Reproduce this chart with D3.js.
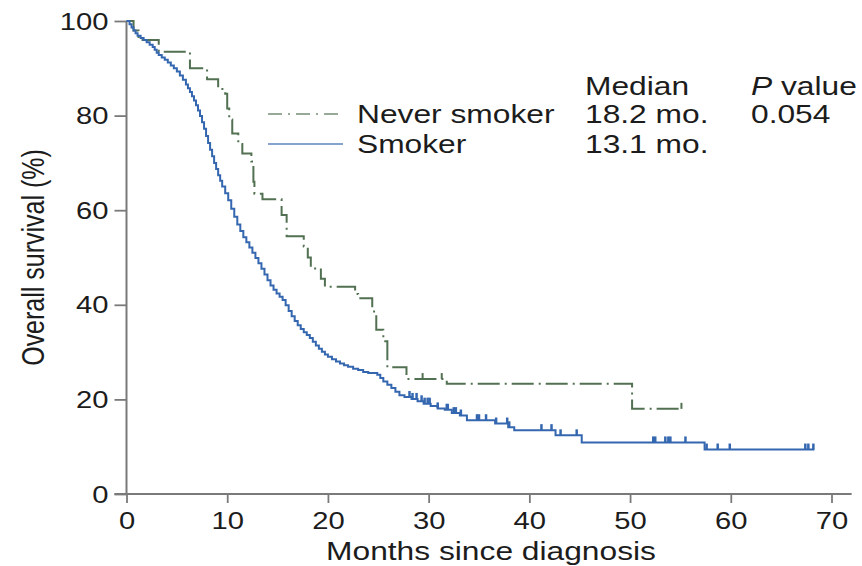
<!DOCTYPE html>
<html>
<head>
<meta charset="utf-8">
<script src="https://cdn.jsdelivr.net/npm/d3@7"></script>
<style>
  body { margin: 0; background: #fff; }
  svg text { font-family: "Liberation Sans", Arial, sans-serif; fill: #1c1c1c; }
</style>
</head>
<body>
<svg id="chartArea" width="862" height="566"></svg>
<script>
// Never smoker: step times (months) and survival (%) after each step
const neverTimes = [0.7, 1.2, 3.2, 6.3, 8.0, 9.1, 9.8, 10.0, 10.2, 10.5, 11.1, 11.5, 12.4, 12.6, 12.7, 13.5,
    15.4, 15.9, 17.6, 18.0, 18.3, 19.3, 19.7, 22.7, 23.0, 24.4, 24.8, 25.5, 25.9, 27.8, 31.8, 50.2];
const neverSurv = [98.0, 96.0, 93.5, 90.0, 87.7, 85.6, 84.6, 81.5, 79.2, 76.2, 74.0, 72.0, 70.3, 66.0, 63.5, 62.3,
    59.0, 54.5, 52.3, 50.0, 47.7, 45.5, 43.8, 42.3, 41.4, 38.6, 34.7, 32.3, 26.8, 24.3, 23.3, 18.0];
const neverEnd = 55.1;
const neverCensor = [29.4, 31.3, 55.1];

// Smoker
const smokerTimes = [0.3, 0.5, 0.7, 0.9, 1.1, 1.4, 1.7, 2.0, 2.3, 2.6, 2.8, 3.0, 3.2, 3.5, 3.8, 4.1, 4.4, 4.7,
    5.0, 5.3, 5.6, 5.9, 6.1, 6.3, 6.5, 6.7, 6.9, 7.1, 7.3, 7.5, 7.7, 7.9, 8.1, 8.3, 8.5, 8.7, 8.9, 9.1, 9.3, 9.5,
    9.8, 10.1, 10.4, 10.7, 11.0, 11.3, 11.6, 11.9, 12.2, 12.5, 12.8, 13.1, 13.4, 13.7, 14.0, 14.3, 14.6, 14.9,
    15.2, 15.5, 15.8, 16.1, 16.4, 16.7, 17.0, 17.3, 17.6, 17.9, 18.2, 18.5, 18.8, 19.1, 19.4, 19.7, 20.0, 20.4,
    20.8, 21.2, 21.6, 22.0, 22.5, 23.0, 23.5, 24.0, 24.9, 25.2, 25.5, 25.9, 26.3, 26.7, 27.1, 27.6, 28.3, 28.9,
    29.5, 30.2, 30.9, 31.6, 32.3, 33.1, 33.8, 36.6, 37.9, 38.5, 42.6, 45.2, 57.4];
const smokerSurv = [99.3, 98.6, 98.0, 97.4, 96.9, 96.4, 96.0, 95.5, 95.0, 94.5, 93.9, 93.3, 92.8, 92.3, 91.8, 91.2, 90.6, 90.0,
    89.3, 88.5, 87.6, 86.6, 85.8, 85.0, 84.1, 83.2, 82.2, 81.1, 79.9, 78.6, 77.2, 75.7, 74.2, 72.8, 71.4, 70.0, 68.7, 67.4, 66.2, 65.0,
    63.6, 62.1, 60.3, 58.6, 57.0, 55.6, 54.3, 53.2, 52.1, 51.0, 49.9, 48.8, 47.6, 46.4, 45.2, 44.1, 43.2, 42.4,
    41.7, 41.0, 39.9, 38.7, 37.6, 36.6, 35.7, 34.9, 34.2, 33.6, 33.0, 32.2, 31.4, 30.7, 30.1, 29.5, 29.0, 28.5,
    28.0, 27.6, 27.2, 26.9, 26.5, 26.2, 25.8, 25.6, 25.2, 24.5, 23.8, 23.1, 22.4, 21.6, 20.9, 20.5, 20.1, 19.6,
    19.1, 18.6, 18.1, 17.8, 17.1, 16.6, 15.6, 14.9, 14.1, 13.5, 12.4, 10.9, 9.4];
const smokerEnd = 68.3;
const smokerCensor = [28.1, 28.4, 28.8, 29.3, 29.6, 29.9, 30.1, 30.9, 31.8, 31.9, 32.5, 32.7, 33.2, 34.8, 35.0,
    35.7, 36.7, 37.8, 38.0, 41.2, 42.2, 43.1, 44.7, 52.3, 52.5, 53.5, 53.8, 54.0, 55.5, 57.6, 58.7, 59.9, 67.4, 67.7, 68.2];

const xTicks = [0, 10, 20, 30, 40, 50, 60, 70];
const yTicks = [0, 20, 40, 60, 80, 100];

const legendRows = [
    {label: "Never smoker", median: "18.2 mo.", p: "0.054"},
    {label: "Smoker", median: "13.1 mo.", p: ""}
];

function buildCurve(times, surv, end) {
    let pts = [{t: 0, s: 100}];
    times.forEach((t, i) => pts.push({t: t, s: surv[i]}));
    pts.push({t: end, s: surv[surv.length - 1]});
    return pts;
}

function survAt(times, surv, t) {
    let s = 100;
    times.forEach((tt, i) => { if (tt <= t) s = surv[i]; });
    return s;
}

const sx = 1.27;   // the reference is horizontally stretched
const svg = d3.select("#chartArea");

const scaleX = d3.scaleLinear().domain([0, 70]).range([126.5, 831.5]);
const scaleY = d3.scaleLinear().domain([0, 100]).range([494, 21]);

const axisColor = "#7a7a7a";

// axes
let yAxis = svg.append("g")
    .attr("transform", `translate(${scaleX(0)},0)`)
    .call(d3.axisLeft(scaleY).tickValues(yTicks).tickSize(12).tickSizeOuter(0).tickPadding(6));
yAxis.select(".domain").remove();
yAxis.selectAll("line").attr("stroke", axisColor).attr("stroke-width", 1.8);
yAxis.selectAll("text")
    .attr("x", null).attr("dy", null)
    .attr("transform", `translate(-18,8) scale(${sx},1)`)
    .style("font-size", "23px")
    .attr("fill", "#1c1c1c");

let xAxis = svg.append("g")
    .attr("transform", `translate(0,${scaleY(0)})`)
    .call(d3.axisBottom(scaleX).tickValues(xTicks).tickSize(9).tickSizeOuter(0));
xAxis.select(".domain").remove();
xAxis.selectAll("line").attr("stroke", axisColor).attr("stroke-width", 1.8);
xAxis.selectAll("text")
    .attr("y", null).attr("dy", null)
    .attr("transform", `translate(0,35) scale(${sx},1)`)
    .style("font-size", "23px")
    .attr("fill", "#1c1c1c");

svg.append("line")
    .attr("x1", scaleX(0)).attr("x2", scaleX(0))
    .attr("y1", scaleY(100)).attr("y2", scaleY(0))
    .attr("stroke", axisColor).attr("stroke-width", 2);
svg.append("line")
    .attr("x1", scaleX(-1.2)).attr("x2", scaleX(72))
    .attr("y1", scaleY(0)).attr("y2", scaleY(0))
    .attr("stroke", axisColor).attr("stroke-width", 2);

// axis titles
svg.append("text")
    .attr("transform", `translate(${(scaleX(0) + scaleX(70)) / 2 + 12},560) scale(${sx},1)`)
    .attr("text-anchor", "middle")
    .style("font-size", "25px")
    .text("Months since diagnosis");

svg.append("text")
    .attr("transform", `translate(44,${(scaleY(0) + scaleY(100)) / 2}) scale(${sx},1) rotate(-90)`)
    .attr("text-anchor", "middle")
    .style("font-size", "25px")
    .text("Overall survival (%)");

// curves
const line = d3.line()
    .x(d => scaleX(d.t))
    .y(d => scaleY(d.s))
    .curve(d3.curveStepAfter);

const blue = "#3467b0";
const green = "#527052";

svg.append("path")
    .datum(buildCurve(neverTimes, neverSurv, neverEnd))
    .attr("fill", "none")
    .attr("stroke", green)
    .attr("stroke-width", 2)
    .attr("stroke-dasharray", "22,5,2,5")
    .attr("d", line);

svg.append("path")
    .datum(buildCurve(smokerTimes, smokerSurv, smokerEnd))
    .attr("fill", "none")
    .attr("stroke", blue)
    .attr("stroke-width", 2)
    .attr("d", line);

// censor marks
svg.selectAll(".cens-never")
    .data(neverCensor)
    .enter().append("line")
    .attr("x1", d => scaleX(d)).attr("x2", d => scaleX(d))
    .attr("y1", d => scaleY(survAt(neverTimes, neverSurv, d)))
    .attr("y2", d => scaleY(survAt(neverTimes, neverSurv, d)) - 6)
    .attr("stroke", green).attr("stroke-width", 2);

svg.selectAll(".cens-smoker")
    .data(smokerCensor)
    .enter().append("line")
    .attr("x1", d => scaleX(d)).attr("x2", d => scaleX(d))
    .attr("y1", d => scaleY(survAt(smokerTimes, smokerSurv, d)))
    .attr("y2", d => scaleY(survAt(smokerTimes, smokerSurv, d)) - 6)
    .attr("stroke", blue).attr("stroke-width", 2.5);

// legend
let legend = svg.append("g");
legend.append("text")
    .attr("transform", `translate(585,95) scale(${sx},1)`)
    .style("font-size", "25px")
    .text("Median");
let pHead = legend.append("text")
    .attr("transform", `translate(751,95) scale(${sx},1)`)
    .style("font-size", "25px");
pHead.append("tspan").style("font-style", "italic").text("P");
pHead.append("tspan").text(" value");

legendRows.forEach((r, i) => {
    let yBase = 123 + i * 30;
    legend.append("line")
        .attr("x1", 268).attr("x2", 343)
        .attr("y1", yBase - 9).attr("y2", yBase - 9)
        .attr("stroke", i === 0 ? green : blue)
        .attr("stroke-width", 1.6)
        .attr("stroke-opacity", 0.8)
        .attr("stroke-dasharray", i === 0 ? "14,6,2,6" : null);
    legend.append("text")
        .attr("transform", `translate(357,${yBase}) scale(${sx},1)`)
        .style("font-size", "25px")
        .text(r.label);
    legend.append("text")
        .attr("transform", `translate(585,${yBase}) scale(${sx},1)`)
        .style("font-size", "25px")
        .text(r.median);
    if (r.p) {
        legend.append("text")
            .attr("transform", `translate(751,${yBase}) scale(${sx},1)`)
            .style("font-size", "25px")
            .text(r.p);
    }
});
</script>
</body>
</html>
